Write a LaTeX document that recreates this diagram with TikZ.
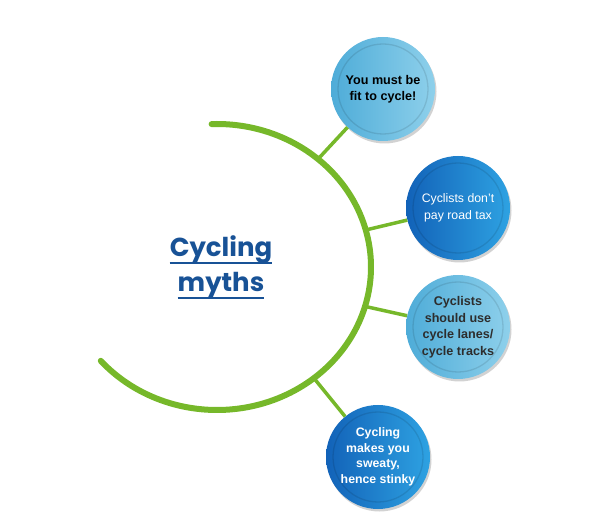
\documentclass[tikz,border=0pt]{standalone}
\usepackage{fontspec}
\setmainfont{Liberation Sans}
\newfontfamily\titlefont{Poppins}
\usetikzlibrary{shadows}
\definecolor{arcgreen}{RGB}{118,184,42}
\definecolor{lbL}{RGB}{78,172,216}
\definecolor{lbR}{RGB}{142,208,235}
\definecolor{dbL}{RGB}{18,98,184}
\definecolor{dbR}{RGB}{46,162,226}
\definecolor{titleblue}{RGB}{24,82,150}
\definecolor{txtgray}{RGB}{45,45,45}
\tikzset{
  bub/.style={circle, minimum size=104pt, inner sep=0pt, align=center,
    font=\fontsize{12.3}{16.5}\selectfont,
    drop shadow={shadow xshift=1.5pt, shadow yshift=-2.5pt, opacity=0.25, fill=black!70}},
  lightbub/.style={bub, left color=lbL, right color=lbR},
  darkbub/.style={bub, left color=dbL, right color=dbR},
  ring/.style={draw=black, opacity=0.10, line width=1.3pt},
  arcline/.style={draw=arcgreen, line width=6pt, line cap=round},
  spoke/.style={draw=arcgreen, line width=3.5pt},
  titletext/.style={inner sep=0pt, text=titleblue, font=\titlefont\bfseries\fontsize{26}{30}\selectfont},
  ul/.style={draw=titleblue, line width=2pt}
}
\begin{document}
\begin{tikzpicture}[x=1pt,y=-1pt]
\useasboundingbox (0,0) rectangle (616,518);
% bubbles
\node[lightbub, text=black, font=\bfseries\fontsize{12.6}{16.5}\selectfont] (b1) at (383,89) {You must be\\fit to cycle!};
\node[darkbub, text=white] (b2) at (458,208) {Cyclists don't\\pay road tax};
\node[lightbub, text=txtgray, font=\bfseries\fontsize{12.6}{16.5}\selectfont] (b3) at (458,327) {Cyclists\\should use\\cycle lanes/\\cycle tracks};
\node[darkbub, text=white, font=\bfseries\fontsize{12.3}{15.5}\selectfont] (b4) at (378,457) {Cycling\\makes you\\sweaty,\\hence stinky};
\foreach \b in {b1,b2,b3,b4} {\draw[ring] (\b.center) circle[radius=45pt];}
% spoke anchors on the arc
\coordinate (s1) at ({217+154*cos(-49)},{267+143*sin(-49)});
\coordinate (s2) at ({217+154*cos(-15)},{267+143*sin(-15)});
\coordinate (s3) at ({217+154*cos(16)},{267+143*sin(16)});
\coordinate (s4) at ({217+154*cos(51)},{267+143*sin(51)});
\draw[spoke] (s1) -- (b1);
\draw[spoke] (s2) -- (b2);
\draw[spoke] (s3) -- (b3);
\draw[spoke] (s4) -- (b4);
% arc
\draw[arcline] plot[domain=-92:139, samples=120, smooth] ({217+154*cos(\x)},{267+143*sin(\x)});
% title
\node[titletext, anchor=base] (t1) at (221,257) {Cycling};
\node[titletext, anchor=base] (t2) at (221,292) {myths};
\draw[ul] ([yshift=-6pt]t1.base west) -- ([yshift=-6pt]t1.base east);
\draw[ul] ([yshift=-6pt]t2.base west) -- ([yshift=-6pt]t2.base east);
\end{tikzpicture}
\end{document}
